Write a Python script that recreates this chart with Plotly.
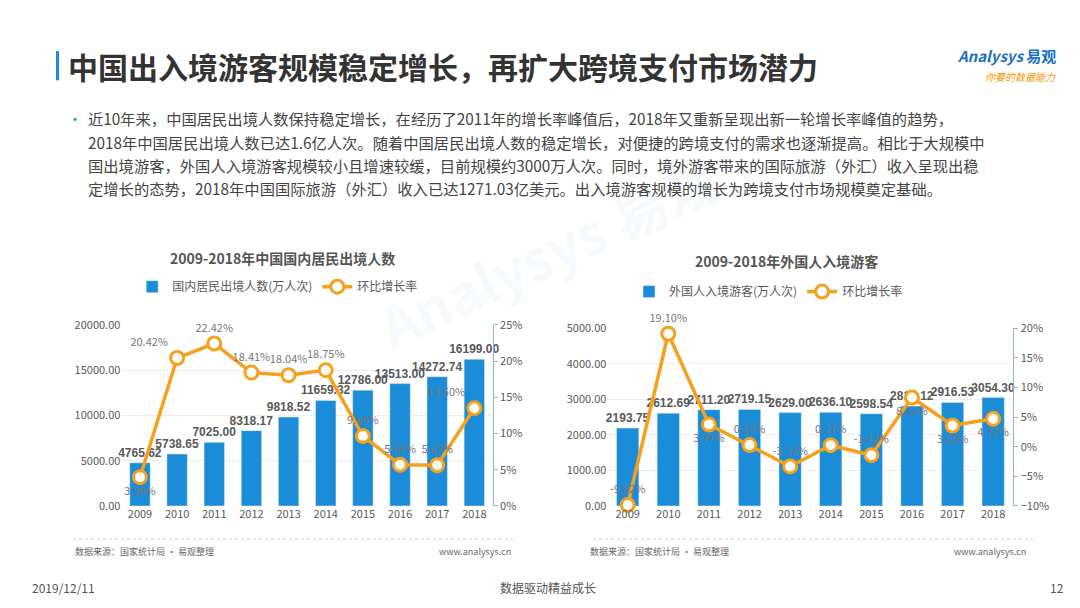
import plotly.graph_objects as go

years = ["2009","2010","2011","2012","2013","2014","2015","2016","2017","2018"]
out_people = [4765.62,5738.65,7025.00,8318.17,9818.52,11659.32,12786.00,13513.00,14272.74,16199.00]
out_growth = [3.98,20.42,22.42,18.41,18.04,18.75,9.66,5.69,5.62,13.50]
in_people = [2193.75,2612.69,2711.20,2719.15,2629.00,2636.10,2598.54,2815.12,2916.53,3054.30]
in_growth = [-9.82,19.10,3.77,0.29,-3.32,0.27,-1.42,8.33,3.60,4.72]

BLUE = "#1a8cd8"; ORANGE = "#f7a01c"; GRAY = "#595959"
FONT = "Noto Sans CJK SC"
fig = go.Figure()

fig.add_trace(go.Bar(x=years, y=out_people, marker_color=BLUE, width=0.55, name="国内居民出境人数(万人次)",
    texttemplate="<b>%{y:.2f}</b>", textposition="outside", cliponaxis=False, constraintext="none",
    textfont=dict(size=12, color=GRAY, family="Liberation Sans"), xaxis="x", yaxis="y", legend="legend"))
fig.add_trace(go.Scatter(x=years, y=out_growth, mode="lines+markers+text", name="环比增长率",
    line=dict(color=ORANGE, width=3.5), marker=dict(size=13, color="white", line=dict(color=ORANGE, width=3)),
    text=[f"{v:.2f}%" for v in out_growth],
    textposition=["bottom center","top left","top center","top center","top center","top center","top center","top center","top center","top left"],
    textfont=dict(size=11, color="#777"), cliponaxis=False, xaxis="x", yaxis="y2", legend="legend"))

fig.add_trace(go.Bar(x=years, y=in_people, marker_color=BLUE, width=0.55, name="外国人入境游客(万人次)",
    texttemplate="<b>%{y:.2f}</b>", textposition="outside", cliponaxis=False, constraintext="none",
    textfont=dict(size=12, color=GRAY, family="Liberation Sans"), xaxis="x2", yaxis="y3", legend="legend2"))
fig.add_trace(go.Scatter(x=years, y=in_growth, mode="lines+markers+text", name="环比增长率",
    line=dict(color=ORANGE, width=3.5), marker=dict(size=13, color="white", line=dict(color=ORANGE, width=3)),
    text=[f"{v:.2f}%" for v in in_growth],
    textposition=["top center","top center","bottom center","top center","top center","top center","top center","bottom center","bottom center","bottom center"],
    textfont=dict(size=11, color="#777"), cliponaxis=False, xaxis="x2", yaxis="y4", legend="legend2"))

ax = dict(showgrid=False, showline=False, ticks="", tickfont=dict(size=11, color=GRAY), fixedrange=True)
yl = dict(showgrid=True, gridcolor="#eeeeee", zeroline=False, tickfont=dict(size=11, color=GRAY), tickformat=".2f")
yr = dict(showgrid=False, zeroline=False, showline=True, linecolor="#8fb4d9", ticks="outside", tickcolor="#8fb4d9",
          ticklen=4, tickfont=dict(size=11, color=GRAY), ticksuffix="%")
fig.update_layout(
    width=1080, height=608, paper_bgcolor="white", plot_bgcolor="white",
    margin=dict(l=0, r=0, t=0, b=0), font=dict(family=FONT), bargap=0.45,
    xaxis=dict(ax, domain=[0.105, 0.449], range=[-0.5, 9.5], anchor="y"),
    yaxis=dict(yl, domain=[0.174, 0.48], range=[0, 20000], dtick=5000, anchor="x"),
    yaxis2=dict(yr, domain=[0.174, 0.48], range=[0, 25], dtick=5, overlaying="y", side="right", anchor="x"),
    xaxis2=dict(ax, domain=[0.555, 0.931], range=[-0.5, 9.5], anchor="y3"),
    yaxis3=dict(yl, domain=[0.174, 0.474], range=[0, 5000], dtick=1000, anchor="x2"),
    yaxis4=dict(yr, domain=[0.174, 0.474], range=[-10, 20], dtick=5, overlaying="y3", side="right", anchor="x2"),
    legend=dict(orientation="h", x=0.115, y=1-277/608, xanchor="left", yanchor="middle", font=dict(size=12, color=GRAY), bgcolor="rgba(0,0,0,0)"),
    legend2=dict(orientation="h", x=0.575, y=1-282/608, xanchor="left", yanchor="middle", font=dict(size=12, color=GRAY), bgcolor="rgba(0,0,0,0)"),
)

def A(x, y, text, size, color, xa="left", **kw):
    d = dict(x=x/1080, y=1-y/608, text=text, font=dict(size=size, color=color), xanchor=xa, yanchor="middle",
             xref="paper", yref="paper", showarrow=False)
    d.update(kw)
    return d

anns = [
    A(540, 240, "<b>Analysys 易观</b>", 56, "rgba(26,140,216,0.04)", xa="center", textangle=-25),
    A(58, 50, "<b>中国出入境游客规模稳定增长，再扩大跨境支付市场潜力</b>", 30, "#333"),
    A(1050, 40, "<i><b>Analysys</b></i> <b>易观</b>", 15, "#1a6fc4", xa="right"),
    A(1050, 61, "<i>你要的数据能力</i>", 10, "#f39800", xa="right"),
    A(58, 104, "•", 14, "#1a8cd8"),
    A(160, 247, "<b>2009-2018年中国国内居民出境人数</b>", 14, "#555"),
    A(685, 251, "<b>2009-2018年外国人入境游客</b>", 14, "#555"),
    A(65, 549, "数据来源：国家统计局 · 易观整理", 9, "#666"),
    A(505, 549, "www.analysys.cn", 9, "#666", xa="right"),
    A(580, 549, "数据来源：国家统计局 · 易观整理", 9, "#666"),
    A(1020, 549, "www.analysys.cn", 9, "#666", xa="right"),
    A(22, 586, "2019/12/11", 12, "#555"),
    A(540, 586, "数据驱动精益成长", 12, "#555", xa="center"),
    A(1058, 586, "12", 12, "#555", xa="right"),
]
lines = ["近10年来，中国居民出境人数保持稳定增长，在经历了2011年的增长率峰值后，2018年又重新呈现出新一轮增长率峰值的趋势，",
         "2018年中国居民出境人数已达1.6亿人次。随着中国居民出境人数的稳定增长，对便捷的跨境支付的需求也逐渐提高。相比于大规模中",
         "国出境游客，外国人入境游客规模较小且增速较缓，目前规模约3000万人次。同时，境外游客带来的国际旅游（外汇）收入呈现出稳",
         "定增长的态势，2018年中国国际旅游（外汇）收入已达1271.03亿美元。出入境游客规模的增长为跨境支付市场规模奠定基础。"]
for i, t in enumerate(lines):
    anns.append(A(78, 104 + 24*i, t, 15.3, "#444"))
fig.update_layout(annotations=anns)

fig.update_layout(shapes=[
    dict(type="rect", xref="paper", yref="paper", x0=48/1080, x1=51/1080, y0=1-65/608, y1=1-35/608, fillcolor="#1a8cd8", line_width=0),
    dict(type="line", xref="paper", yref="paper", x0=65/1080, x1=505/1080, y0=1-536/608, y1=1-536/608, line=dict(color="#ccc", width=1, dash="dot")),
    dict(type="line", xref="paper", yref="paper", x0=585/1080, x1=1025/1080, y0=1-536/608, y1=1-536/608, line=dict(color="#ccc", width=1, dash="dot")),
])
fig.write_html("out.html")
